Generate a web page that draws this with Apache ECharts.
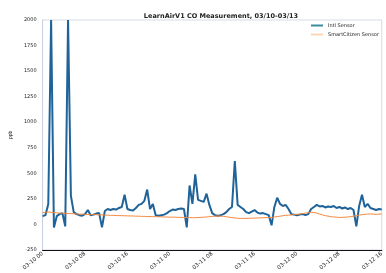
<!DOCTYPE html>
<html>
<head>
<meta charset="utf-8">
<script src="https://cdn.jsdelivr.net/npm/echarts@6/dist/echarts.min.js"></script>
<style>
  html, body { margin: 0; padding: 0; background: #fff; }
  #chart { width: 386px; height: 273px; }
</style>
</head>
<body>
<div id="chart"></div>
<script>
// tick labels every 15 samples
const tickLabels = ['03-10 00', '03-10 08', '03-10 16', '03-11 00', '03-11 08', '03-11 16', '03-12 00', '03-12 08', '03-12 16'];
const stepsPerTick = 15;

// Intl sensor (ppb)
const intlSensor = [
  80, 90, 200, 2000, -30, 80, 100, 110, -20, 2000,
  280, 120, 100, 90, 85, 100, 140, 90, 95, 105,
  110, -30, 130, 150, 140, 150, 145, 160, 170, 290,
  150, 140, 135, 160, 190, 200, 230, 340, 150, 200,
  90, 85, 90, 95, 110, 130, 145, 140, 150, 155,
  150, -30, 380, 200, 490, 240, 230, 220, 300, 190,
  110, 90, 85, 90, 100, 120, 150, 170, 620, 190,
  170, 150, 120, 110, 125, 140, 115, 105, 110, 100,
  90, -10, 170, 260, 200, 180, 190, 150, 100, 95,
  90, 95, 100, 90, 100, 150, 170, 190, 175, 180,
  165, 175, 170, 180, 160, 170, 155, 165, 150, 160,
  140, -20, 180, 290, 170, 200, 160, 150, 140, 150,
  145
];

// SmartCitizen sensor (ppb)
const smartCitizen = [
  115, 118, 120, 118, 115, 112, 110, 110, 108, 105,
  105, 104, 102, 100, 100, 98, 96, 95, 95, 94,
  92, 92, 90, 90, 88, 88, 86, 85, 85, 84,
  83, 82, 82, 80, 80, 78, 78, 76, 76, 75,
  75, 74, 74, 72, 72, 70, 70, 70, 68, 68,
  68, 66, 66, 65, 65, 66, 68, 70, 72, 75,
  78, 80, 82, 80, 78, 74, 70, 66, 62, 60,
  58, 58, 58, 60, 60, 62, 62, 64, 64, 66,
  66, 68, 72, 76, 80, 84, 88, 90, 92, 95,
  98, 100, 105, 110, 115, 118, 115, 110, 100, 92,
  85, 80, 75, 72, 70, 68, 68, 70, 72, 75,
  80, 85, 90, 95, 98, 100, 102, 100, 98, 100,
  102
];

const categories = intlSensor.map((v, i) => i);

const chart = echarts.init(document.getElementById('chart'));
chart.setOption({
    animation: false,
    title: {
        text: 'LearnAirV1 CO Measurement, 03/10-03/13',
        left: 216,
        textAlign: 'center',
        top: 8,
        textStyle: {fontSize: 6.5, fontWeight: 'bold', color: '#222', fontFamily: 'DejaVu Sans'},
    },
    legend: {
        left: 306,
        top: 18,
        orient: 'vertical',
        itemWidth: 12,
        itemHeight: 2,
        itemGap: 4,
        icon: 'rect',
        textStyle: {fontSize: 5, color: '#222', fontFamily: 'DejaVu Sans'},
        data: ['Intl Sensor', 'SmartCitizen Sensor'],
    },
    grid: {
        left: 39,
        right: -9,
        top: 20,
        bottom: 14,
        show: true,
        borderColor: '#d6dbe6',
        borderWidth: 1,
    },
    xAxis: {
        type: 'category',
        data: categories,
        boundaryGap: false,
        axisLine: {onZero: false, lineStyle: {color: '#111', width: 1.2}},
        axisTick: {show: false},
        splitLine: {show: false},
        axisLabel: {
            interval: stepsPerTick - 1,
            rotate: 40,
            fontSize: 5.5,
            color: '#222',
            margin: 3,
            fontFamily: 'DejaVu Sans',
            formatter: (val, idx) => tickLabels[Math.round(idx / stepsPerTick)] || '',
        },
    },
    yAxis: {
        type: 'value',
        min: -250,
        max: 2000,
        interval: 250,
        name: 'ppb',
        nameLocation: 'middle',
        nameGap: 20,
        nameTextStyle: {fontSize: 5, color: '#222'},
        axisLine: {show: true, lineStyle: {color: '#c9d0e0'}},
        axisTick: {show: false},
        splitLine: {show: false},
        axisLabel: {
            fontSize: 5,
            color: '#222',
            margin: 6,
            fontFamily: 'DejaVu Sans',
            formatter: (v) => String(v),
        },
    },
    series: [
        {
            name: 'Intl Sensor',
            type: 'line',
            data: intlSensor,
            symbol: 'none',
            lineStyle: {color: '#1f6399', width: 2},
            itemStyle: {color: '#3a8ca4'},
        },
        {
            name: 'SmartCitizen Sensor',
            type: 'line',
            data: smartCitizen,
            symbol: 'none',
            lineStyle: {color: '#f5883c', width: 1},
            itemStyle: {color: '#fbd6b8'},
        },
    ],
});
</script>
</body>
</html>
